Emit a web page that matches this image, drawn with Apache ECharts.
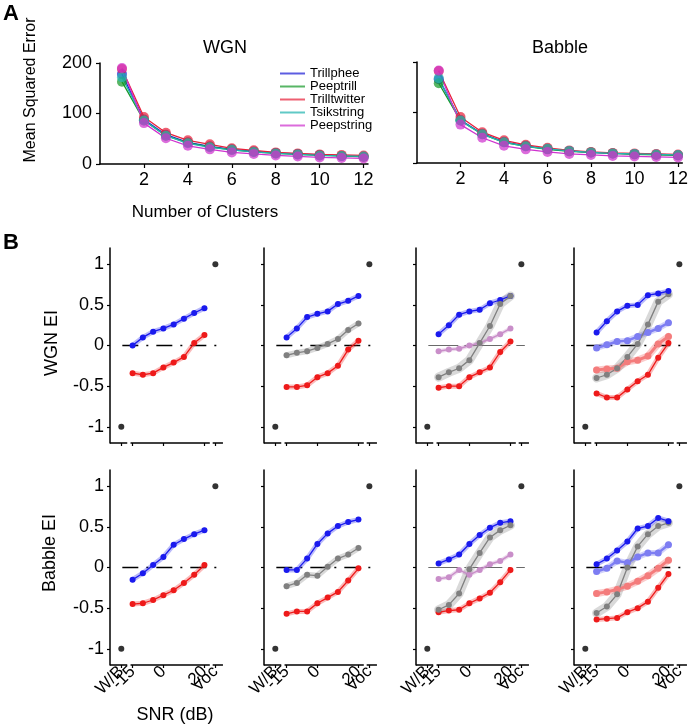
<!DOCTYPE html>
<html><head><meta charset="utf-8">
<script src="https://cdn.jsdelivr.net/npm/echarts@6/dist/echarts.min.js"></script>
<style>html,body{margin:0;padding:0;background:#fff}#c{width:691px;height:727px}</style>
</head><body><div id="c"></div>
<script>
// ---------- Panel A data ----------
const clusters = [1,2,3,4,5,6,7,8,9,10,11,12];
const callNames = ['Trillphee','Peeptrill','Trilltwitter','Tsikstring','Peepstring'];
const wgnTrillphee    = [178, 88, 58, 43, 35, 29, 25, 22, 20, 18, 16, 15];
const wgnPeeptrill    = [163, 86, 56, 42, 34, 28, 24, 21, 19, 17, 16, 14];
const wgnTrilltwitter = [188, 93, 62, 47, 39, 31, 27, 23, 21, 19, 18, 17];
const wgnTsikstring   = [172, 86, 56, 41, 33, 28, 24, 21, 19, 17, 16, 15];
const wgnPeepstring   = [190, 81, 51, 36, 29, 23, 20, 17, 15, 13, 12, 11];
const babTrillphee    = [166, 85, 58, 42, 34, 28, 24, 21, 19, 18, 17, 16];
const babPeeptrill    = [158, 84, 57, 41, 33, 27, 23, 21, 19, 17, 16, 15];
const babTrilltwitter = [182, 91, 61, 45, 36, 30, 25, 22, 20, 19, 18, 17];
const babTsikstring   = [168, 84, 57, 41, 33, 28, 24, 21, 19, 18, 17, 16];
const babPeepstring   = [183, 76, 50, 34, 27, 22, 18, 16, 14, 13, 12, 11];
const clusterTicks = [2,4,6,8,10,12];
const mseTicks = [0,100,200];

// ---------- Panel B data ----------
const snr = [-15,-10,-5,0,5,10,15,20];
const snrTickValues = [-15,0,20];
const snrTickLabels = ['-15','0','20'];
const anchorTickValues = [-20.5,25.3];
const anchorTickLabels = ['W/B','Voc'];
const eiTicks = [-1,-0.5,0,0.5,1];
const anchorValues = [-1, 1]; // W/B, Voc

const wgn1Blue = [0.0, 0.10, 0.17, 0.21, 0.26, 0.33, 0.40, 0.46];
const wgn1Red  = [-0.34, -0.36, -0.34, -0.27, -0.21, -0.14, 0.03, 0.13];

const wgn2Blue = [0.10, 0.21, 0.35, 0.39, 0.42, 0.51, 0.55, 0.61];
const wgn2Gray = [-0.12, -0.09, -0.07, -0.03, 0.02, 0.08, 0.19, 0.27];
const wgn2Red  = [-0.51, -0.51, -0.49, -0.39, -0.34, -0.25, -0.05, 0.06];

const wgn3Blue = [0.14, 0.25, 0.38, 0.42, 0.44, 0.52, 0.56, 0.61];
const wgn3Gray = [-0.39, -0.33, -0.28, -0.18, 0.03, 0.24, 0.51, 0.61];
const wgn3Pink = [-0.07, -0.05, -0.04, 0.0, 0.03, 0.08, 0.14, 0.21];
const wgn3Red  = [-0.52, -0.50, -0.50, -0.39, -0.33, -0.27, -0.08, 0.05];

const wgn4Blue      = [0.16, 0.30, 0.42, 0.49, 0.50, 0.62, 0.64, 0.67];
const wgn4LightBlue = [-0.03, 0.01, 0.05, 0.06, 0.11, 0.16, 0.21, 0.28];
const wgn4Gray      = [-0.40, -0.36, -0.28, -0.14, 0.02, 0.26, 0.54, 0.63];
const wgn4LightRed  = [-0.30, -0.29, -0.28, -0.20, -0.18, -0.13, 0.02, 0.11];
const wgn4Red       = [-0.59, -0.64, -0.64, -0.54, -0.44, -0.36, -0.15, 0.03];

const bab1Blue = [-0.15, -0.07, 0.03, 0.13, 0.28, 0.35, 0.41, 0.46];
const bab1Red  = [-0.45, -0.44, -0.40, -0.34, -0.28, -0.19, -0.09, 0.03];

const bab2Blue = [-0.03, -0.03, 0.11, 0.29, 0.42, 0.51, 0.56, 0.59];
const bab2Gray = [-0.23, -0.19, -0.09, -0.10, 0.01, 0.11, 0.16, 0.24];
const bab2Red  = [-0.57, -0.54, -0.54, -0.44, -0.37, -0.30, -0.16, -0.01];

const bab3Blue = [0.05, 0.10, 0.16, 0.29, 0.40, 0.49, 0.55, 0.57];
const bab3Gray = [-0.52, -0.46, -0.32, -0.02, 0.18, 0.37, 0.46, 0.52];
const bab3Pink = [-0.14, -0.12, -0.03, -0.09, -0.03, 0.04, 0.08, 0.16];
const bab3Red  = [-0.55, -0.53, -0.52, -0.44, -0.38, -0.31, -0.18, -0.03];

const bab4Blue      = [0.04, 0.11, 0.21, 0.32, 0.48, 0.51, 0.61, 0.57];
const bab4LightBlue = [-0.05, -0.01, 0.08, 0.06, 0.13, 0.18, 0.18, 0.28];
const bab4Gray      = [-0.56, -0.48, -0.33, 0.0, 0.26, 0.41, 0.51, 0.55];
const bab4LightRed  = [-0.32, -0.30, -0.27, -0.23, -0.17, -0.10, -0.01, 0.09];
const bab4Red       = [-0.64, -0.63, -0.62, -0.55, -0.50, -0.42, -0.25, -0.08];

// ---------- build ----------
const FONT = "'Liberation Sans', Arial, Helvetica, sans-serif";
const callColors = ['#1f1fd6','#179a2a','#e8213a','#23b4b0','#cf33cf'];
const kindStyle = {
  blue:      {c:'#1a1aee', w:1.3, s:6, band:5, bo:0.3},
  red:       {c:'#ee1a1a', w:1.3, s:6, band:5, bo:0.3},
  gray:      {c:'#808080', w:1.3, s:6, band:6, bo:0.3},
  pink:      {c:'#c98ec9', w:1.5, s:6, band:4, bo:0.35},
  lightBlue: {c:'#7d7df2', w:2.5, s:7, band:6, bo:0.35},
  lightRed:  {c:'#f47c7c', w:3,   s:7, band:7, bo:0.4}
};

const grid = [], xAxis = [], yAxis = [], series = [];
const axisLineStyle = {color:'#000', width:1.5};
const tickStyle = {color:'#000', width:1.2};

// Panel A
const aPanels = [
  {left:100, top:63, vals:[wgnTrillphee,wgnPeeptrill,wgnTrilltwitter,wgnTsikstring,wgnPeepstring], yLabels:true},
  {left:417, top:62, vals:[babTrillphee,babPeeptrill,babTrilltwitter,babTsikstring,babPeepstring], yLabels:false}
];
aPanels.forEach((p, i) => {
  grid.push({left:p.left, top:p.top, width:268, height:101});
  const xi = xAxis.length, yi = yAxis.length;
  xAxis.push({type:'value', gridIndex:i, min:0, max:12.2,
    axisLine:{show:true, onZero:false, lineStyle:axisLineStyle},
    axisTick:{show:true, customValues:clusterTicks, length:4, lineStyle:tickStyle},
    axisLabel:{show:true, customValues:clusterTicks, color:'#000', fontSize:18, fontFamily:FONT, margin:7},
    splitLine:{show:false}});
  yAxis.push({type:'value', gridIndex:i, min:0, max:200,
    axisLine:{show:true, onZero:false, lineStyle:axisLineStyle},
    axisTick:{show:true, customValues:mseTicks, length:4, lineStyle:tickStyle},
    axisLabel:{show:p.yLabels, customValues:mseTicks, color:'#000', fontSize:18, fontFamily:FONT, margin:8},
    splitLine:{show:false}});
  p.vals.forEach((v, k) => {
    series.push({type:'line', name:callNames[k], xAxisIndex:xi, yAxisIndex:yi,
      data: clusters.map((c, j) => [c, v[j]]),
      symbol:'circle', symbolSize:10, color:callColors[k],
      itemStyle:{color:callColors[k], opacity:0.72},
      lineStyle:{color:callColors[k], width:1.3},
      z: 3, silent:true, animation:false});
  });
});

// Panel B
const colLeft = [110, 264, 416, 574];
const rowTop = [248, 470];
const bPanels = [
  {r:0,c:0,curves:[['blue',wgn1Blue],['red',wgn1Red]]},
  {r:0,c:1,curves:[['gray',wgn2Gray],['red',wgn2Red],['blue',wgn2Blue]]},
  {r:0,c:2,curves:[['pink',wgn3Pink],['red',wgn3Red],['blue',wgn3Blue],['gray',wgn3Gray]]},
  {r:0,c:3,curves:[['lightBlue',wgn4LightBlue],['lightRed',wgn4LightRed],['gray',wgn4Gray],['red',wgn4Red],['blue',wgn4Blue]]},
  {r:1,c:0,curves:[['blue',bab1Blue],['red',bab1Red]]},
  {r:1,c:1,curves:[['gray',bab2Gray],['red',bab2Red],['blue',bab2Blue]]},
  {r:1,c:2,curves:[['pink',bab3Pink],['red',bab3Red],['blue',bab3Blue],['gray',bab3Gray]]},
  {r:1,c:3,curves:[['lightBlue',bab4LightBlue],['lightRed',bab4LightRed],['gray',bab4Gray],['red',bab4Red],['blue',bab4Blue]]}
];
const axisSegments = [[-26,-17.6],[-16,22.6],[24,29]];
const mkXAxis = (gi, vals, labels, show) => ({type:'value', gridIndex:gi, min:-26, max:30, position:'bottom',
  axisLine:{show:false, onZero:false},
  axisTick:{show:true, customValues:vals, length:3, lineStyle:tickStyle},
  axisLabel:{show:show, customValues:vals, rotate:45, margin:4, color:'#000', fontSize:17, fontFamily:FONT,
    hideOverlap:false,
    formatter:(v)=>{ const k = vals.findIndex(t => Math.abs(t - v) < 1e-6); return k >= 0 ? labels[k] : ''; }},
  splitLine:{show:false}});
bPanels.forEach((p) => {
  const gi = grid.length;
  grid.push({left:colLeft[p.c], top:rowTop[p.r], width:115, height:195});
  const xi = xAxis.length;
  xAxis.push(mkXAxis(gi, snrTickValues, snrTickLabels, p.r===1));
  xAxis.push(mkXAxis(gi, anchorTickValues, anchorTickLabels, p.r===1));
  const yi = yAxis.length;
  yAxis.push({type:'value', gridIndex:gi, min:-1.2, max:1.2,
    axisLine:{show:true, onZero:false, lineStyle:axisLineStyle},
    axisTick:{show:true, customValues:eiTicks, length:3, lineStyle:tickStyle},
    axisLabel:{show:p.c===0, customValues:eiTicks, color:'#000', fontSize:18, fontFamily:FONT, margin:6},
    splitLine:{show:false}});
  // broken x axis
  axisSegments.forEach(seg => {
    series.push({type:'line', xAxisIndex:xi, yAxisIndex:yi, data:[[seg[0],-1.2],[seg[1],-1.2]],
      symbol:'none', clip:false, lineStyle:{color:'#000', width:1.5}, silent:true, animation:false, z:1});
  });
  // zero reference line
  const thin = p.c === 2;
  series.push({type:'line', xAxisIndex:xi, yAxisIndex:yi, data:[[-20,0],[27,0]],
    symbol:'none', lineStyle:{color: thin ? '#444' : '#000', width: thin ? 0.8 : 1.5, type: thin ? [30,6,2,6] : [16,8,2,8]},
    silent:true, animation:false, z:2});
  // curves
  p.curves.forEach(([kind, vals]) => {
    const st = kindStyle[kind];
    const bw = (kind==='gray' && p.c>=2) ? 9 : st.band;
    const pts = snr.map((x, j) => [x, vals[j]]);
    series.push({type:'line', xAxisIndex:xi, yAxisIndex:yi, data:pts, symbol:'none',
      lineStyle:{color:st.c, width:bw, opacity:st.bo, cap:'round', join:'round'}, silent:true, animation:false, z:3});
    series.push({type:'line', xAxisIndex:xi, yAxisIndex:yi, data:pts, symbol:'circle', symbolSize:st.s,
      itemStyle:{color:st.c}, lineStyle:{color:st.c, width:st.w}, silent:true, animation:false, z:4});
  });
  // W/B and Voc anchors
  series.push({type:'scatter', xAxisIndex:xi, yAxisIndex:yi,
    data:[[anchorTickValues[0], anchorValues[0]],[anchorTickValues[1], anchorValues[1]]],
    symbolSize:6, itemStyle:{color:'#000'}, silent:true, animation:false, z:5});
});

const txt = (text, x, y, size, opts={}) => ({type:'text', x, y, rotation: opts.rot||0,
  style:{text, font:`${opts.bold?'bold ':''}${size}px ${FONT}`, fill:'#000',
    textAlign: opts.align||'center', textVerticalAlign:'middle'}});

const option = {
  animation:false,
  backgroundColor:'#fff',
  grid, xAxis, yAxis, series,
  legend:{data:callNames, orient:'vertical', left:275, top:62, icon:'rect', itemWidth:25, itemHeight:2,
    itemGap:0, selectedMode:false, textStyle:{fontSize:13, fontFamily:FONT, color:'#000', lineHeight:12}},
  graphic:[
    txt('A', 3, 14, 22, {bold:true, align:'left'}),
    txt('B', 3, 243, 22, {bold:true, align:'left'}),
    txt('WGN', 225, 48, 18),
    txt('Babble', 560, 48, 18),
    txt('Mean Squared Error', 31, 90, 16, {rot:Math.PI/2}),
    txt('Number of Clusters', 205, 212, 17),
    txt('WGN EI', 52, 343, 18, {rot:Math.PI/2}),
    txt('Babble EI', 50, 553, 18, {rot:Math.PI/2}),
    txt('SNR (dB)', 175, 715, 18)
  ]
};
const chart = echarts.init(document.getElementById('c'), null, {renderer:'canvas'});
chart.setOption(option);
</script></body></html>
